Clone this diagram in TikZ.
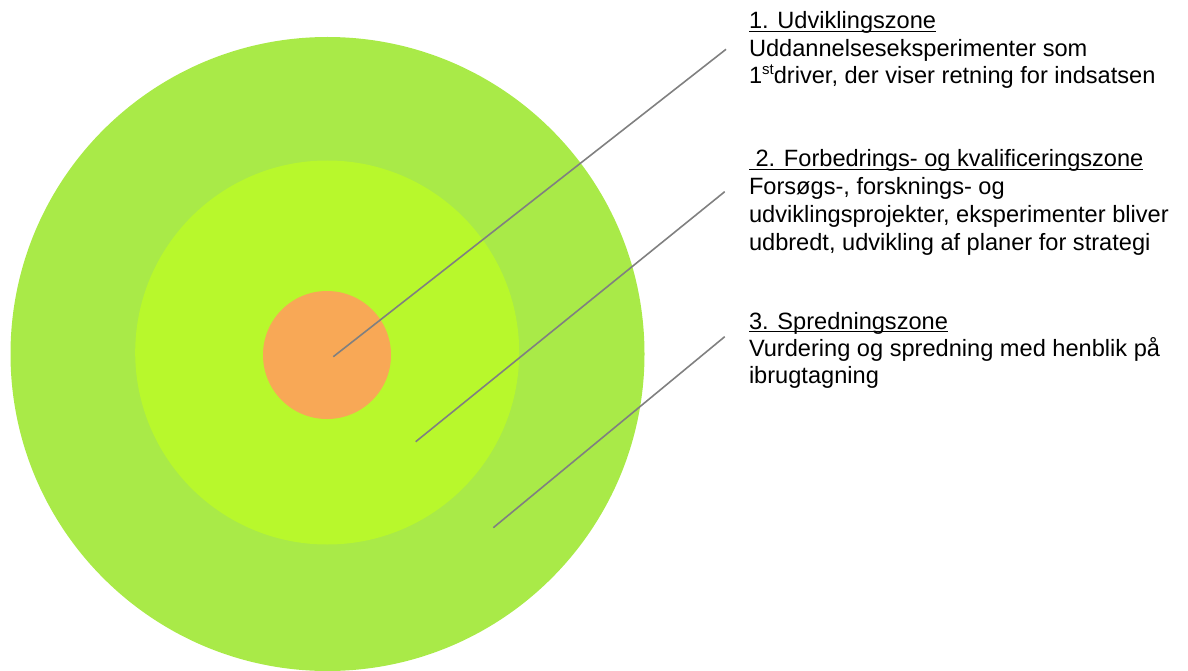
\documentclass[tikz,border=0pt]{standalone}
\usepackage{fontspec}
\setmainfont{Liberation Sans}
\definecolor{outerg}{HTML}{A9EA48}
\definecolor{midg}{HTML}{B8F82C}
\definecolor{innero}{HTML}{F8A856}
\definecolor{leader}{HTML}{808080}
\newcommand\myul[1]{\setbox0\hbox{#1}\rlap{\rule[-3.2pt]{\wd0}{1.6pt}}\box0}
\begin{document}
\begin{tikzpicture}[x=1pt,y=-1pt,
  zone/.style={circle,draw=none,inner sep=0pt,outer sep=0pt},
  txt/.style={anchor=base west,inner sep=0pt,outer sep=0pt,font=\fontsize{23.6}{27.6}\selectfont},
  lead/.style={draw=leader,line width=1.6pt}]
\useasboundingbox (0,0) rectangle (1188,671);
\node[zone,fill=outerg,minimum size=634pt] (outer) at (327.5,354) {};
\node[zone,fill=midg,minimum size=384pt] (mid) at (327.2,352.5) {};
\node[zone,fill=innero,minimum size=128pt] (inner) at (327,355) {};
% leader lines
\coordinate (a1) at (333.3,356.7);
\coordinate (b1) at (726,49.3);
\coordinate (a2) at (415.7,441.7);
\coordinate (b2) at (724.7,191.7);
\coordinate (a3) at (493.3,527.7);
\coordinate (b3) at (724.7,336.7);
\draw[lead] (a1) -- (b1);
\draw[lead] (a2) -- (b2);
\draw[lead] (a3) -- (b3);
% texts
\node[txt] (t1a) at (749,29) {\myul{1. Udviklingszone}};
\node[txt] (t1b) at (749,56.5) {Uddannelseseksperimenter som};
\node[txt] (t1c) at (749,84) {1\raisebox{0.42em}{\fontsize{15}{15}\selectfont st}driver, der viser retning for indsatsen};
\node[txt] (t2a) at (749,167) {\myul{\ 2. Forbedrings- og kvalificeringszone}};
\node[txt] (t2b) at (749,195) {Forsøgs-, forsknings- og};
\node[txt] (t2c) at (749,222.5) {udviklingsprojekter, eksperimenter bliver};
\node[txt] (t2d) at (749,250) {udbredt, udvikling af planer for strategi};
\node[txt] (t3a) at (749,329) {\myul{3. Spredningszone}};
\node[txt] (t3b) at (749,356) {Vurdering og spredning med henblik på};
\node[txt] (t3c) at (749,383.5) {ibrugtagning};
\end{tikzpicture}
\end{document}
